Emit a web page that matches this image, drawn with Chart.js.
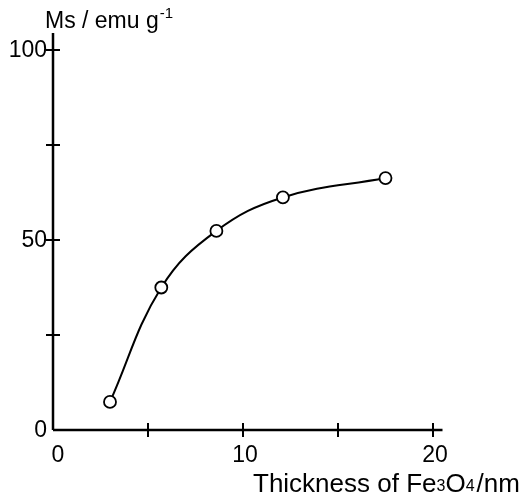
<!DOCTYPE html>
<html>
<head>
<meta charset="utf-8">
<script src="https://cdn.jsdelivr.net/npm/chart.js@4"></script>
<style>
  html, body { margin: 0; padding: 0; background: #ffffff; }
  #wrap { position: relative; width: 523px; height: 501px; }
</style>
</head>
<body>
<div id="wrap"><canvas id="msChart" width="523" height="501"></canvas></div>
<script>
// Saturation magnetization vs Fe3O4 thickness
const thickness = [3.0, 5.7, 8.6, 12.1, 17.5];
const msValues = [7.4, 37.5, 52.4, 61.2, 66.3];

const xTicks = [5, 10, 15, 20];
const xLabels = [0, 10, 20];
const yTicks = [25, 50, 75, 100];
const yLabels = [0, 50, 100];

const FONT = '"Liberation Sans", "DejaVu Sans", sans-serif';

// draws the axes, crossing tick marks, tick labels and titles
const axesPlugin = {
    id: 'axesPlugin',
    afterDraw(chart) {
        const ctx = chart.ctx;
        const xs = chart.scales.x;
        const ys = chart.scales.y;
        const x0 = xs.getPixelForValue(0);
        const y0 = ys.getPixelForValue(0);

        ctx.save();
        ctx.strokeStyle = '#000';
        ctx.lineWidth = 2.5;
        ctx.lineCap = 'butt';

        // axis lines (run a bit past the last tick)
        ctx.beginPath();
        ctx.moveTo(x0, y0);
        ctx.lineTo(xs.getPixelForValue(20.5), y0);
        ctx.moveTo(x0, y0);
        ctx.lineTo(x0, ys.getPixelForValue(104.5));
        ctx.stroke();

        ctx.lineWidth = 2;
        ctx.beginPath();
        xTicks.forEach(v => {
            const px = xs.getPixelForValue(v);
            ctx.moveTo(px, y0 - 7);
            ctx.lineTo(px, y0 + 7);
        });
        yTicks.forEach(v => {
            const py = ys.getPixelForValue(v);
            ctx.moveTo(x0 - 7, py);
            ctx.lineTo(x0 + 7, py);
        });
        ctx.stroke();

        ctx.fillStyle = '#000';
        ctx.font = '23px ' + FONT;

        // x tick labels
        ctx.textAlign = 'center';
        ctx.textBaseline = 'top';
        xLabels.forEach(v => {
            const px = xs.getPixelForValue(v) + (v === 0 ? 5 : 2);
            ctx.fillText(String(v), px, y0 + 14);
        });

        // y tick labels
        ctx.textAlign = 'right';
        ctx.textBaseline = 'middle';
        yLabels.forEach(v => {
            ctx.fillText(String(v), x0 - 6, ys.getPixelForValue(v) + 1);
        });

        // y title: Ms / emu g^-1
        ctx.textAlign = 'left';
        ctx.textBaseline = 'alphabetic';
        let tx = 45;
        const yb = 28;
        ctx.font = '23px ' + FONT;
        ctx.fillText('Ms / emu g', tx, yb);
        tx += ctx.measureText('Ms / emu g').width;
        ctx.font = '15px ' + FONT;
        ctx.fillText('-1', tx + 1, yb - 10);

        // x title: Thickness of Fe3O4 / nm
        const parts = [
            ['Thickness of Fe', 26],
            ['3', 16],
            ['O', 26],
            ['4', 16],
            ['/nm', 26]
        ];
        tx = 253;
        const xb = 492;
        parts.forEach(([t, s]) => {
            ctx.font = s + 'px ' + FONT;
            ctx.fillText(t, tx, xb - (s < 20 ? 1 : 0));
            tx += ctx.measureText(t).width + (t === '4' ? 2 : 0);
        });

        ctx.restore();
    }
};

const ctx = document.getElementById('msChart');

new Chart(ctx, {
    type: 'line',
    data: {
        datasets: [{
            data: thickness.map((x, i) => ({ x: x, y: msValues[i] })),
            borderColor: '#000',
            borderWidth: 2,
            tension: 0.4,
            pointRadius: 6,
            pointBackgroundColor: '#fff',
            pointBorderColor: '#000',
            pointBorderWidth: 1.8,
            fill: false
        }]
    },
    options: {
        responsive: false,
        animation: false,
        events: [],
        layout: {
            padding: { left: 53, top: 50, right: 90, bottom: 71 }
        },
        plugins: {
            legend: { display: false },
            tooltip: { enabled: false }
        },
        scales: {
            x: {
                type: 'linear',
                min: 0,
                max: 20,
                display: true,
                ticks: { display: false },
                grid: { display: false, drawTicks: false },
                border: { display: false }
            },
            y: {
                type: 'linear',
                min: 0,
                max: 100,
                display: true,
                ticks: { display: false },
                grid: { display: false, drawTicks: false },
                border: { display: false }
            }
        }
    },
    plugins: [axesPlugin]
});
</script>
</body>
</html>
